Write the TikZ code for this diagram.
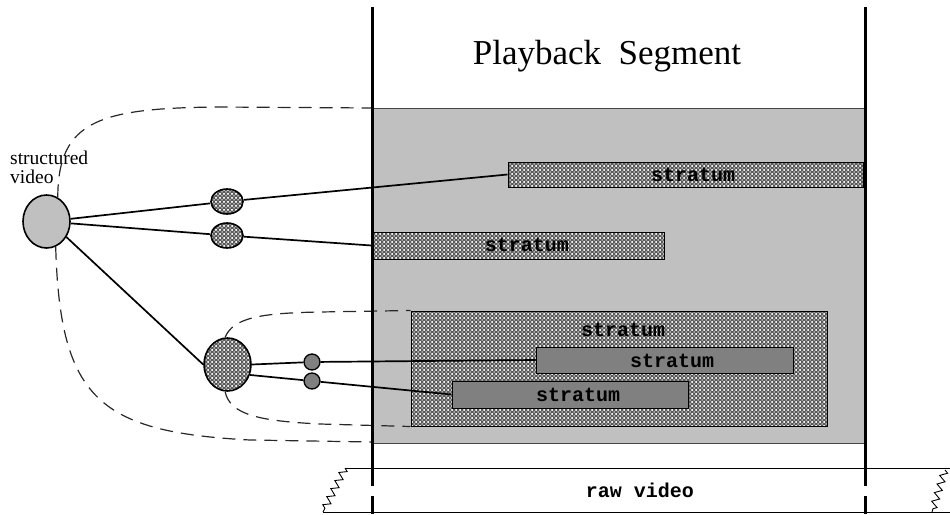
\documentclass[tikz,border=0pt]{standalone}
\usepackage{fontspec}
\setmainfont{Liberation Serif}
\setmonofont{Liberation Mono}
\usetikzlibrary{patterns,shapes.geometric,decorations.pathmorphing}
\definecolor{bggray}{RGB}{192,192,192}
\definecolor{dkgray}{RGB}{128,128,128}
\definecolor{hatchgray}{RGB}{90,90,90}
\definecolor{edgegray}{RGB}{70,70,70}
\definecolor{dashgray}{RGB}{40,40,40}
\pgfdeclarepatternformonly{hatchdots}{\pgfqpoint{-1pt}{-1pt}}{\pgfqpoint{5pt}{5pt}}{\pgfqpoint{4pt}{4pt}}{%
  \pgfpathcircle{\pgfqpoint{0pt}{0pt}}{0.75pt}%
  \pgfpathcircle{\pgfqpoint{2pt}{2pt}}{0.75pt}%
  \pgfpathcircle{\pgfqpoint{4pt}{0pt}}{0.75pt}%
  \pgfpathcircle{\pgfqpoint{0pt}{4pt}}{0.75pt}%
  \pgfpathcircle{\pgfqpoint{4pt}{4pt}}{0.75pt}%
  \pgfusepath{fill}}
\begin{document}
\begin{tikzpicture}[x=1pt,y=-1pt,
  hatch/.style={preaction={fill=hatchgray}, preaction={pattern=hatchdots, pattern color=white}},
  stratbox/.style={rectangle, draw=black, line width=1pt, inner sep=0pt},
  strattext/.style={inner sep=0pt, font=\fontsize{20}{22}\selectfont\ttfamily\bfseries},
  conn/.style={line width=1.7pt, black},
  loopline/.style={line width=1.2pt, draw=dashgray, dash pattern=on 13pt off 8pt},
  bigoval/.style={ellipse, draw=black, line width=1.6pt, minimum width=47pt, minimum height=53pt, inner sep=0pt},
  smalloval/.style={ellipse, draw=black, line width=1.6pt, minimum width=32pt, minimum height=25pt, inner sep=0pt, hatch},
  smalldot/.style={circle, draw=black, line width=1.3pt, minimum size=16pt, inner sep=0pt, fill=dkgray},
  bar/.style={line width=3pt, black},
  breakline/.style={line width=0.9pt, decorate, decoration={zigzag, segment length=9pt, amplitude=3.5pt}}
]
\useasboundingbox (0,0) rectangle (950,514);

% playback area
\filldraw[fill=bggray, draw=edgegray, line width=1pt] (372,108) rectangle (865,443);

% title
\node[anchor=base, inner sep=0pt, font=\fontsize{35}{40}\selectfont] (title) at (607,64) {Playback\hspace{0.5em}Segment};

% strata
\node[stratbox, hatch, minimum width=355pt, minimum height=25pt] (s1) at (685.5,174.5) {};
\node[strattext] (t1) at (693,175) {stratum};
\node[stratbox, hatch, minimum width=292pt, minimum height=27pt] (s2) at (518,245.5) {};
\node[strattext] (t2) at (527,245) {stratum};
\node[stratbox, hatch, minimum width=416pt, minimum height=115pt] (s3) at (619,368.5) {};
\node[strattext] (t3) at (623,330) {stratum};
\node[stratbox, fill=dkgray, minimum width=257pt, minimum height=26pt] (si1) at (664.5,360) {};
\node[strattext] (ti1) at (672,361) {stratum};
\node[stratbox, fill=dkgray, minimum width=236pt, minimum height=27pt] (si2) at (570,394.5) {};
\node[strattext] (ti2) at (578,395) {stratum};

% left nodes
\node[bigoval, fill=bggray] (sv) at (46.5,221.5) {};
\node[anchor=base west, inner sep=0pt, align=left, font=\fontsize{19.5}{19}\selectfont] (svlabel) at (10,183) {structured\\video};
\node[smalloval] (e1) at (227,201.5) {};
\node[smalloval] (e2) at (227,235.5) {};
\node[bigoval, hatch] (pc) at (227.5,364.5) {};
\node[smalldot] (c1) at (312,362) {};
\node[smalldot] (c2) at (312,381) {};

% connectors
\draw[conn] (sv) -- (e1);
\draw[conn] (e1) -- (s1.west);
\draw[conn] (sv) -- (e2);
\draw[conn] (e2) -- (s2.west);
\draw[conn] (sv.-38) -- (pc.west);
\draw[conn] (pc.east) -- (c1);
\draw[conn] (c1) -- (si1.west);
\draw[conn] (pc.-25) -- (c2);
\draw[conn] (c2) -- (si2.west);

% dashed loops
\coordinate (gtl) at (372,108);
\coordinate (gbl) at (372,442);
\draw[loopline] (sv.65) .. controls (58,120) and (100,108) .. (220,107) -- (gtl);
\draw[loopline] (sv.-70) .. controls (60,400) and (100,432) .. (250,440) -- (gbl);
\draw[loopline] (pc.95) .. controls (233,318) and (260,313) .. (320,312) -- (s3.north west);
\draw[loopline] (pc.-95) .. controls (230,415) and (260,421) .. (320,424) -- (s3.south west);

% raw video strip
\coordinate (rtl) at (345,468);
\coordinate (rbl) at (323,512);
\coordinate (rtr) at (950,468);
\coordinate (rbr) at (950,512);
\draw[line width=1pt] (rtl) -- (rtr);
\draw[line width=1pt] (rbl) -- (rbr);
\draw[breakline] (rtl) -- (rbl);
\draw[breakline] (945,470) -- (932,512);
\node[strattext] (raw) at (640,490) {raw video};

% vertical bars
\draw[bar] (372,7) -- (372,486) (372,496) -- (372,514);
\draw[bar] (865,7) -- (865,486) (865,496) -- (865,514);
\end{tikzpicture}
\end{document}
